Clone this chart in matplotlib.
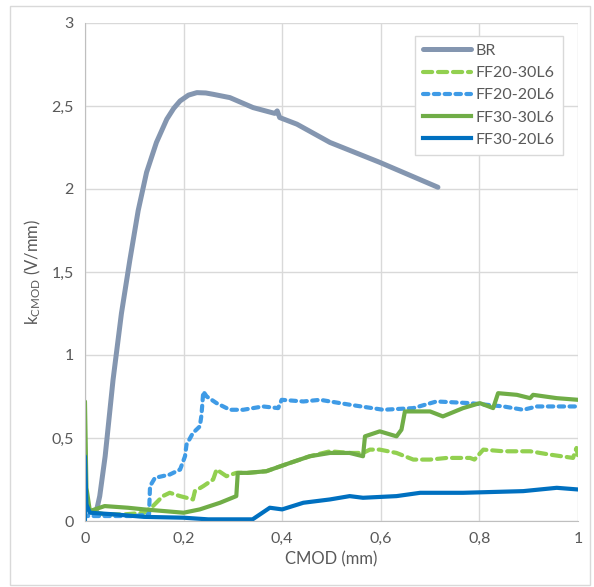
import matplotlib
matplotlib.use("Agg")
import matplotlib.pyplot as plt
from matplotlib.patches import Rectangle

plt.rcParams['font.family'] = ['Lato', 'DejaVu Sans']
plt.rcParams['mathtext.fontset'] = 'custom'
plt.rcParams['mathtext.rm'] = 'Lato'
plt.rcParams['mathtext.it'] = 'Lato'

# ---- data ----
br_x = [0.024, 0.03, 0.041, 0.057, 0.074, 0.091, 0.108, 0.125, 0.145, 0.166, 0.18, 0.193,
        0.21, 0.227, 0.245, 0.26, 0.294, 0.341, 0.385, 0.39, 0.395, 0.43, 0.497, 0.598, 0.716]
br_y = [0.07, 0.15, 0.39, 0.85, 1.25, 1.57, 1.87, 2.10, 2.28, 2.42, 2.485, 2.53,
        2.565, 2.58, 2.578, 2.57, 2.55, 2.49, 2.455, 2.47, 2.43, 2.39, 2.28, 2.16, 2.01]

ff2030_x = [0.0, 0.002, 0.01, 0.04, 0.08, 0.12, 0.138, 0.158, 0.172, 0.193, 0.206, 0.219,
            0.223, 0.24, 0.26, 0.267, 0.287, 0.307, 0.33, 0.368, 0.416, 0.456, 0.497, 0.537,
            0.564, 0.578, 0.598, 0.632, 0.666, 0.70, 0.734, 0.781, 0.79, 0.808, 0.849, 0.903,
            0.943, 0.99, 0.997, 1.0]
ff2030_y = [0.2, 0.12, 0.06, 0.04, 0.04, 0.05, 0.09, 0.15, 0.17, 0.15, 0.14, 0.13,
            0.18, 0.21, 0.25, 0.31, 0.27, 0.29, 0.29, 0.30, 0.35, 0.39, 0.42, 0.41,
            0.41, 0.43, 0.43, 0.41, 0.37, 0.37, 0.38, 0.38, 0.37, 0.43, 0.42, 0.42,
            0.40, 0.38, 0.44, 0.39]

ff2020_x = [0.0, 0.003, 0.02, 0.06, 0.10, 0.13, 0.132, 0.142, 0.172, 0.193, 0.203, 0.206,
            0.219, 0.233, 0.236, 0.238, 0.24, 0.247, 0.267, 0.294, 0.321, 0.361, 0.392,
            0.399, 0.443, 0.477, 0.538, 0.605, 0.666, 0.713, 0.781, 0.849, 0.889, 0.917, 1.0]
ff2020_y = [0.05, 0.03, 0.03, 0.03, 0.03, 0.04, 0.21, 0.26, 0.28, 0.31, 0.39, 0.46,
            0.53, 0.57, 0.63, 0.70, 0.78, 0.75, 0.71, 0.67, 0.67, 0.69, 0.68,
            0.73, 0.72, 0.73, 0.70, 0.67, 0.68, 0.72, 0.71, 0.69, 0.67, 0.69, 0.69]

ff3030_x = [0.0, 0.0, 0.003, 0.01, 0.04, 0.087, 0.12, 0.16, 0.2, 0.233, 0.274, 0.307,
            0.31, 0.33, 0.368, 0.416, 0.456, 0.497, 0.537, 0.564, 0.568, 0.598, 0.632,
            0.642, 0.649, 0.70, 0.726, 0.767, 0.801, 0.828, 0.838, 0.876, 0.903, 0.909,
            0.957, 1.0]
ff3030_y = [0.0, 0.72, 0.2, 0.06, 0.09, 0.08, 0.07, 0.06, 0.05, 0.07, 0.11, 0.15,
            0.29, 0.29, 0.30, 0.35, 0.39, 0.41, 0.41, 0.39, 0.51, 0.54, 0.51,
            0.55, 0.66, 0.66, 0.63, 0.68, 0.71, 0.68, 0.77, 0.76, 0.74, 0.76,
            0.74, 0.73]

ff3020_x = [0.0, 0.0, 0.003, 0.01, 0.06, 0.12, 0.2, 0.25, 0.30, 0.34, 0.36, 0.375, 0.40,
            0.443, 0.497, 0.537, 0.564, 0.632, 0.68, 0.767, 0.889, 0.957, 1.0]
ff3020_y = [0.0, 0.39, 0.1, 0.05, 0.04, 0.025, 0.02, 0.01, 0.01, 0.01, 0.05, 0.08, 0.07,
            0.11, 0.13, 0.15, 0.14, 0.15, 0.17, 0.17, 0.18, 0.20, 0.19]

labels = ['BR', 'FF20-30L6', 'FF20-20L6', 'FF30-30L6', 'FF30-20L6']
x_ticks = [0, 0.2, 0.4, 0.6, 0.8, 1.0]
x_tick_labels = ['0', '0,2', '0,4', '0,6', '0,8', '1']
y_ticks = [0, 0.5, 1, 1.5, 2, 2.5, 3]
y_tick_labels = ['0', '0,5', '1', '1,5', '2', '2,5', '3']

# ---- figure ----
fig = plt.figure(figsize=(5.94, 5.87), dpi=100)
fig.patches.append(Rectangle((0.016, 0.004), 0.977, 0.986, transform=fig.transFigure,
                             fill=False, edgecolor='#d9d9d9', linewidth=1.0))
ax = fig.add_axes([0.143, 0.1124, 0.830, 0.8486])

ax.plot(br_x, br_y, color='#8496b0', lw=3.6, solid_capstyle='round',
        solid_joinstyle='round', label=labels[0])
ax.plot(ff2030_x, ff2030_y, color='#92d050', lw=3.0, dashes=(2.2, 1.4),
        dash_capstyle='round', label=labels[1])
ax.plot(ff2020_x, ff2020_y, color='#3f9be6', lw=3.0, dashes=(1.3, 1.3),
        dash_capstyle='round', label=labels[2])
ax.plot(ff3030_x, ff3030_y, color='#70ad47', lw=3.0, label=labels[3])
ax.plot(ff3020_x, ff3020_y, color='#0070c0', lw=3.0, label=labels[4])

ax.set_xlim(0, 1)
ax.set_ylim(0, 3)
ax.set_xticks(x_ticks)
ax.set_xticklabels(x_tick_labels)
ax.set_yticks(y_ticks)
ax.set_yticklabels(y_tick_labels)
ax.tick_params(length=0, labelsize=11.5, colors='#595959', pad=8)
ax.grid(True, color='#d9d9d9', lw=1.0)
ax.set_axisbelow(True)
for s in ax.spines.values():
    s.set_visible(False)
ax.spines['left'].set_visible(True)
ax.spines['bottom'].set_visible(True)
ax.spines['left'].set_color('#bfbfbf')
ax.spines['bottom'].set_color('#bfbfbf')

ax.set_xlabel('CMOD (mm)', fontsize=12, color='#595959', labelpad=4)
ax.set_ylabel(r'k$_{\mathrm{CMOD}}$ (V/mm)', fontsize=12, color='#595959', labelpad=6)

leg = ax.legend(loc='upper right', bbox_to_anchor=(0.985, 0.99), fontsize=11.5,
                frameon=True, fancybox=False, edgecolor='#d9d9d9', handlelength=3.0,
                borderpad=0.5, labelspacing=0.5, handletextpad=0.3, framealpha=1)
for t in leg.get_texts():
    t.set_color('#595959')

fig.savefig('out.png', dpi=100)
